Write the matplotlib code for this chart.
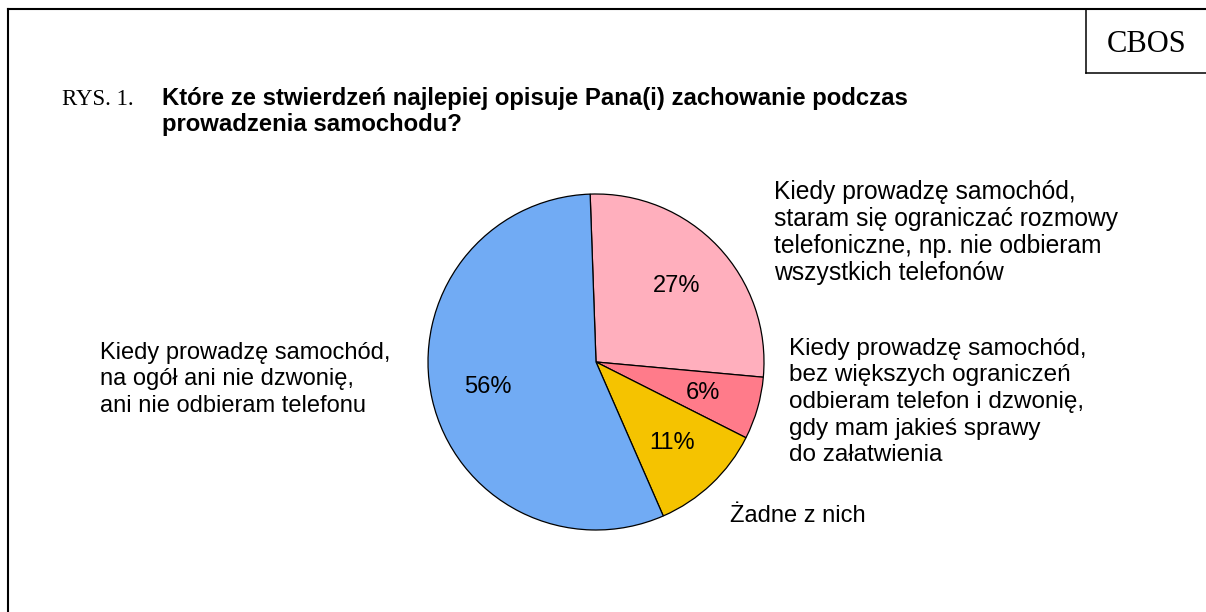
import matplotlib
matplotlib.use('Agg')
import matplotlib.pyplot as plt
from matplotlib.lines import Line2D

W, H = 1206, 612

# data
shares = [27, 6, 11, 56]
colors = ['#ffafbd', '#ff7b8a', '#f5c300', '#71abf4']
labels = [
  ['Kiedy prowadzę samochód,', 'staram się ograniczać rozmowy',
   'telefoniczne, np. nie odbieram', 'wszystkich telefonów'],
  ['Kiedy prowadzę samochód,', 'bez większych ograniczeń',
   'odbieram telefon i dzwonię,', 'gdy mam jakieś sprawy', 'do załatwienia'],
  ['Żadne z nich'],
  ['Kiedy prowadzę samochód,', 'na ogół ani nie dzwonię,',
   'ani nie odbieram telefonu'],
]
title_lines = ['Które ze stwierdzeń najlepiej opisuje Pana(i) zachowanie podczas',
               'prowadzenia samochodu?']

sans = 'Liberation Sans'
serif = 'Liberation Serif'


def fx(x):
  return x / W


def fy(y):
  return 1 - y / H


fig = plt.figure(figsize=(W / 100, H / 100), dpi=100)
fig.patch.set_facecolor('white')

# pie, centre (596, 362), radius 168 px
cx, cy, r = 596, 362, 168
ax = fig.add_axes([fx(cx - r), fy(cy + r), 2 * r / W, 2 * r / H])
wedges, texts, autotexts = ax.pie(
  shares, colors=colors, startangle=92, counterclock=False,
  autopct='%d%%', pctdistance=0.66,
  wedgeprops=dict(edgecolor='black', linewidth=0.9),
  textprops=dict(fontsize=17, family=sans, color='black'))
ax.set_xlim(-1, 1)
ax.set_ylim(-1, 1)
ax.axis('off')

# outer labels: (left x, first baseline y, line step, size)
pos = [(774, 199, 27, 17.7), (789, 355, 26.5, 17.5), (730, 522, 27, 17),
       (100, 359, 26.5, 17)]
for lines, (x0, y0, dy, fs) in zip(labels, pos):
  for k, line in enumerate(lines):
    fig.text(fx(x0), fy(y0 + k * dy), line, fontsize=fs, family=sans,
             ha='left', va='baseline')

# title
fig.text(fx(62), fy(105), 'RYS. 1.', fontsize=16.5, family=serif,
         ha='left', va='baseline')
for k, line in enumerate(title_lines):
  fig.text(fx(162), fy(105 + k * 26), line, fontsize=17.2, family=sans,
           weight='bold', ha='left', va='baseline')

# CBOS box
fig.text(fx(1147), fy(52), 'CBOS', fontsize=22, family=serif,
         ha='center', va='baseline')

frame = [((8, 1206), (9, 9), 1.5), ((8, 8), (9, 612), 1.5),
         ((1086, 1086), (9, 73), 1.1), ((1086, 1206), (73, 73), 1.1)]
for xs, ys, lw in frame:
  fig.add_artist(Line2D([fx(x) for x in xs], [fy(y) for y in ys],
                        transform=fig.transFigure, color='black', lw=lw))

fig.savefig('out.png', dpi=100)
